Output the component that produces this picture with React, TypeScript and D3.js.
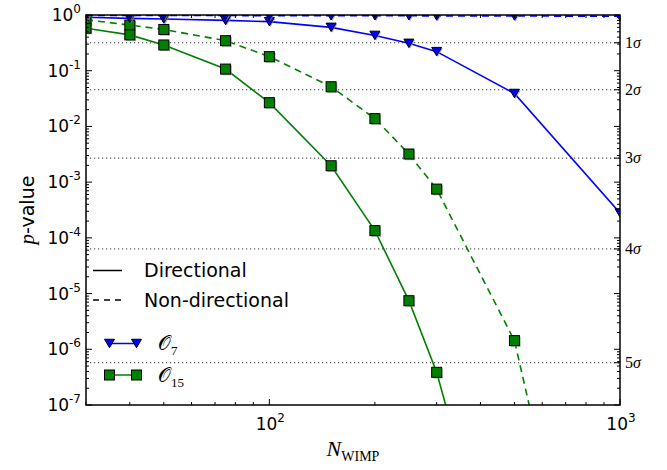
import React from "react";
import * as d3 from "d3";

// Number of WIMP events
const nWimp = [30, 40, 50, 75, 100, 150, 200, 250, 300, 500, 1000];

// p-values for operator O7
const o7Directional = [0.91, 0.87, 0.85, 0.8, 0.76, 0.6, 0.43, 0.31, 0.22, 0.039, 2.8e-4];
const o7NonDirectional = [0.98, 0.98, 0.98, 0.98, 0.97, 0.97, 0.97, 0.97, 0.96, 0.96, 0.95];

// p-values for operator O15
const o15Directional = [0.58, 0.44, 0.29, 0.107, 0.0267, 0.00197, 1.35e-4, 7.45e-6, 3.86e-7, 3.4e-12, 1e-22];
const o15NonDirectional = [0.82, 0.66, 0.55, 0.346, 0.179, 0.0516, 0.0138, 0.0032, 7.5e-4, 1.43e-6, 7.5e-15];

// Two-sided significance levels
const sigmaLabels = ["1", "2", "3", "4", "5"];
const sigmaPValues = [0.3173, 0.0455, 0.0027, 6.334e-5, 5.733e-7];

const yTickExps = [0, -1, -2, -3, -4, -5, -6, -7];
const xTickExps = [2, 3];

const W = 667;
const H = 470;
const M = { left: 86, right: 620, top: 15, bottom: 405 };

const BLUE = "#0000ff";
const GREEN = "#008000";

const x = d3.scaleLog().domain([30, 1000]).range([M.left, M.right]);
const y = d3.scaleLog().domain([1e-7, 1]).range([M.bottom, M.top]);

const line = d3
  .line<number>()
  .x((_, i) => x(nWimp[i]))
  .y((v) => y(v));

function Tri({ cx, cy, s = 5, shadow = false }: { cx: number; cy: number; s?: number; shadow?: boolean }) {
  const h = s * 0.85;
  const pts = (dx: number) =>
    `${cx - s + dx},${cy - h + dx} ${cx + s + dx},${cy - h + dx} ${cx + dx},${cy + h + dx}`;
  return (
    <g>
      {shadow && <polygon points={pts(1.2)} fill="#8a8a8a" opacity={0.7} />}
      <polygon points={pts(0)} fill={BLUE} stroke="#000" strokeWidth={1} />
    </g>
  );
}

function Sq({ cx, cy, s = 5, shadow = false }: { cx: number; cy: number; s?: number; shadow?: boolean }) {
  return (
    <g>
      {shadow && (
        <rect x={cx - s + 1.2} y={cy - s + 1.2} width={2 * s} height={2 * s} fill="#8a8a8a" opacity={0.7} />
      )}
      <rect x={cx - s} y={cy - s} width={2 * s} height={2 * s} fill={GREEN} stroke="#000" strokeWidth={1} />
    </g>
  );
}

export default function App() {
  // minor ticks for log axes
  const yMinor: number[] = [];
  for (let e = -7; e < 0; e++) for (let k = 2; k <= 9; k++) yMinor.push(k * Math.pow(10, e));
  const xMinor: number[] = [];
  for (let e = 1; e < 3; e++)
    for (let k = 2; k <= 9; k++) {
      const v = k * Math.pow(10, e);
      if (v >= 30 && v <= 1000) xMinor.push(v);
    }

  const dashed = "7,5";
  const font = "DejaVu Sans, sans-serif";
  const serif = "Liberation Serif, DejaVu Serif, serif";

  return (
    <svg width={W} height={H} style={{ position: "absolute", left: 0, top: 0, background: "#fff" }}>
      <defs>
        <clipPath id="plot">
          <rect x={M.left} y={M.top} width={M.right - M.left} height={M.bottom - M.top} />
        </clipPath>
      </defs>
      <rect width={W} height={H} fill="#fff" />

      {/* significance reference lines */}
      {sigmaPValues.map((p, i) => (
        <line
          key={i}
          x1={M.left}
          x2={M.right}
          y1={y(p)}
          y2={y(p)}
          stroke="#333"
          strokeWidth={1}
          strokeDasharray="1.2,2.8"
        />
      ))}

      <g clipPath="url(#plot)">
        <path d={line(o15NonDirectional) || ""} fill="none" stroke={GREEN} strokeWidth={1.6} strokeDasharray={dashed} />
        <path d={line(o15Directional) || ""} fill="none" stroke={GREEN} strokeWidth={1.6} />
        <path d={line(o7Directional) || ""} fill="none" stroke={BLUE} strokeWidth={1.6} />
        <path d={line(o7NonDirectional) || ""} fill="none" stroke={BLUE} strokeWidth={1.6} strokeDasharray={dashed} />

        {o15NonDirectional.map((v, i) => (
          <Sq key={"a" + i} cx={x(nWimp[i])} cy={y(v)} shadow />
        ))}
        {o15Directional.map((v, i) => (
          <Sq key={"b" + i} cx={x(nWimp[i])} cy={y(v)} shadow />
        ))}
        {o7Directional.map((v, i) => (
          <Tri key={"c" + i} cx={x(nWimp[i])} cy={y(v)} shadow />
        ))}
        {o7NonDirectional.map((v, i) => (
          <Tri key={"d" + i} cx={x(nWimp[i])} cy={y(v)} shadow />
        ))}
      </g>

      {/* ticks on all four sides, pointing inward */}
      <g stroke="#000" strokeWidth={1}>
        {yTickExps.map((e) => {
          const yy = y(Math.pow(10, e));
          return (
            <g key={"ym" + e}>
              <line x1={M.left} x2={M.left + 6} y1={yy} y2={yy} />
              <line x1={M.right} x2={M.right - 6} y1={yy} y2={yy} />
            </g>
          );
        })}
        {yMinor.map((v, i) => (
          <g key={"yn" + i}>
            <line x1={M.left} x2={M.left + 3} y1={y(v)} y2={y(v)} />
            <line x1={M.right} x2={M.right - 3} y1={y(v)} y2={y(v)} />
          </g>
        ))}
        {sigmaPValues.map((p, i) => (
          <line key={"st" + i} x1={M.right} x2={M.right - 6} y1={y(p)} y2={y(p)} />
        ))}
        {xTickExps.map((e) => {
          const xx = x(Math.pow(10, e));
          return (
            <g key={"xm" + e}>
              <line x1={xx} x2={xx} y1={M.bottom} y2={M.bottom - 6} />
              <line x1={xx} x2={xx} y1={M.top} y2={M.top + 6} />
            </g>
          );
        })}
        {xMinor.map((v, i) => (
          <g key={"xn" + i}>
            <line x1={x(v)} x2={x(v)} y1={M.bottom} y2={M.bottom - 3} />
            <line x1={x(v)} x2={x(v)} y1={M.top} y2={M.top + 3} />
          </g>
        ))}
      </g>

      {/* frame */}
      <rect
        x={M.left}
        y={M.top}
        width={M.right - M.left}
        height={M.bottom - M.top}
        fill="none"
        stroke="#000"
        strokeWidth={1.5}
      />

      {/* y tick labels */}
      {yTickExps.map((e) => (
        <text key={"yl" + e} x={81} y={y(Math.pow(10, e)) + 6} textAnchor="end" fontFamily={font} fontSize={17} fill="#000">
          10
          <tspan fontSize={12} dy={-8}>
            {e === 0 ? "0" : "-" + Math.abs(e)}
          </tspan>
        </text>
      ))}

      {/* x tick labels */}
      {xTickExps.map((e) => (
        <text key={"xl" + e} x={x(Math.pow(10, e)) + 1} y={430} textAnchor="middle" fontFamily={font} fontSize={17} fill="#000">
          10
          <tspan fontSize={12} dy={-8}>
            {e}
          </tspan>
        </text>
      ))}

      {/* sigma labels on the right */}
      {sigmaLabels.map((s, i) => (
        <text key={"sl" + i} x={625} y={y(sigmaPValues[i]) + 5} fontFamily={serif} fontSize={16} fill="#000">
          {s}
          <tspan fontStyle="italic">σ</tspan>
        </text>
      ))}

      {/* axis titles */}
      <text
        transform={`translate(34,${(M.top + M.bottom) / 2}) rotate(-90)`}
        textAnchor="middle"
        fontFamily={font}
        fontSize={19}
        fill="#000"
      >
        <tspan fontFamily={serif} fontStyle="italic" fontSize={21}>
          p
        </tspan>
        -value
      </text>
      <text x={(M.left + M.right) / 2} y={456} textAnchor="middle" fontFamily={serif} fill="#000">
        <tspan fontStyle="italic" fontSize={22}>
          N
        </tspan>
        <tspan fontSize={14} dy={5}>
          WIMP
        </tspan>
      </text>

      {/* line-style legend */}
      <g fontFamily={font} fontSize={19} fill="#000">
        <line x1={93} x2={122} y1={270.5} y2={270.5} stroke="#000" strokeWidth={1.5} />
        <text x={144} y={277}>
          Directional
        </text>
        <line x1={93} x2={122} y1={300} y2={300} stroke="#000" strokeWidth={1.5} strokeDasharray="6,5" />
        <text x={144} y={307}>
          Non-directional
        </text>
      </g>

      {/* operator legend */}
      <line x1={109.5} x2={136.5} y1={343.5} y2={343.5} stroke={BLUE} strokeWidth={1.5} />
      <Tri cx={109.5} cy={343.5} />
      <Tri cx={136.5} cy={343.5} />
      <text x={158} y={350} fontFamily={serif} fill="#000">
        <tspan fontSize={20}>𝒪</tspan>
        <tspan fontSize={13} dy={5}>
          7
        </tspan>
      </text>
      <line x1={109.5} x2={136.5} y1={375} y2={375} stroke={GREEN} strokeWidth={1.5} />
      <Sq cx={109.5} cy={375} />
      <Sq cx={136.5} cy={375} />
      <text x={158} y={381.5} fontFamily={serif} fill="#000">
        <tspan fontSize={20}>𝒪</tspan>
        <tspan fontSize={13} dy={5}>
          15
        </tspan>
      </text>
    </svg>
  );
}
